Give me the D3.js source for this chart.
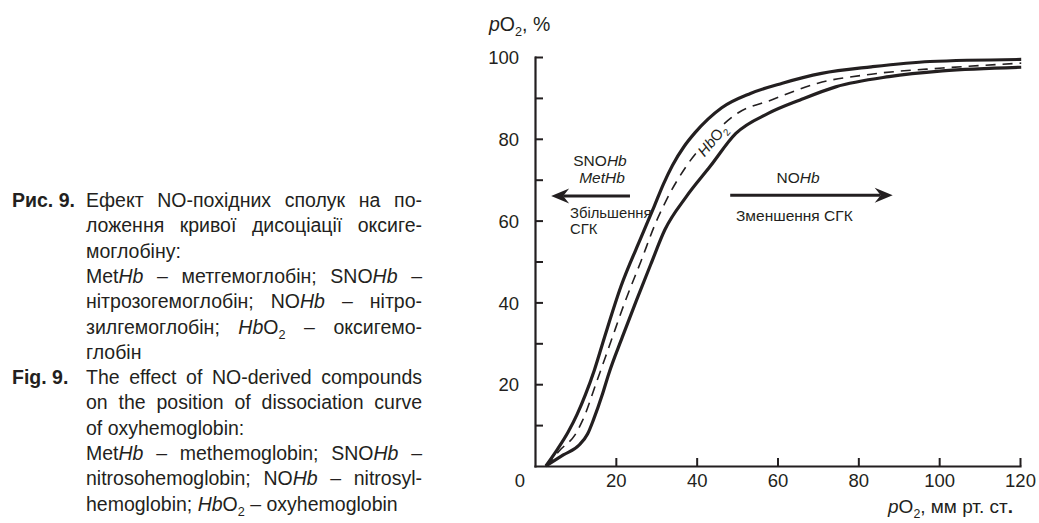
<!DOCTYPE html>
<html><head><meta charset="utf-8">
<script src="https://cdn.jsdelivr.net/npm/d3@7"></script>
<style>
body{margin:0;background:#fff}
svg{display:block}
text{font-family:"Liberation Sans",Arial,Helvetica,sans-serif;fill:#231f20}
</style>
</head><body>
<svg id="c" width="1039" height="523"></svg>
<script>
// ---------- data ----------
const xTicks = [20, 40, 60, 80, 100, 120];
const yTicks = [10, 20, 30, 40, 50, 60, 70, 80, 90, 100];
const yLabelTicks = [20, 40, 60, 80, 100];

// SNOHb / MetHb curve (shift left)
const leftX = [2.7, 5.5, 8.2, 10.5, 12.5, 14.7, 17.2, 21.3, 26.3, 29.5, 31.8, 34, 36.8, 39.6, 46.2, 53.3, 61.2, 70.9, 83.2, 97.7, 120.3];
const leftY = [0, 4.0, 8.3, 12.8, 17.5, 23.5, 31.5, 44, 56, 63.5, 69, 73.5, 78, 81.5, 87.6, 91.1, 93.6, 96.0, 97.6, 98.9, 99.4];
// HbO2 normal curve (dashed)
const midX = [2.7, 6.5, 9.9, 11.8, 15.4, 18.8, 22.4, 26.2, 29.8, 32.5, 37.3, 43.5, 50.2, 58.5, 70, 83.2, 100.8, 120.3];
const midY = [0, 4.2, 7.6, 11.2, 21, 30.5, 40.5, 50, 59.3, 65, 73.1, 80.5, 86.3, 89.5, 93.6, 95.8, 97.3, 98.5];
// NOHb curve (shift right)
const rightX = [2.7, 7, 11, 13, 14.5, 16.7, 18.2, 21.6, 25.1, 28.6, 32.1, 37.4, 43.3, 49.7, 57.7, 65.6, 74.4, 87.6, 100.8, 120.3];
const rightY = [0, 2.7, 5.2, 7.8, 11.4, 17.6, 22.4, 31.5, 40.5, 49.2, 57.7, 65.8, 73.2, 81.3, 86.2, 89.5, 92.7, 95.2, 96.6, 97.5];

// caption lines: [label, segments, justify]
const captionLines = [
  ["Рис. 9.", [{t:"Ефект NO-похідних сполук на по-"}], true],
  ["", [{t:"ложення кривої дисоціації оксиге-"}], true],
  ["", [{t:"моглобіну:"}], false],
  ["", [{t:"Met"},{t:"Hb",st:"i"},{t:" – метгемоглобін; SNO"},{t:"Hb",st:"i"},{t:" –"}], true],
  ["", [{t:"нітрозогемоглобін; NO"},{t:"Hb",st:"i"},{t:" – нітро-"}], true],
  ["", [{t:"зилгемоглобін; "},{t:"Hb",st:"i"},{t:"O"},{t:"2",st:"sub"},{t:" – оксигемо-"}], true],
  ["", [{t:"глобін"}], false],
  ["Fig. 9.", [{t:"The effect of NO-derived compounds"}], true],
  ["", [{t:"on the position of dissociation curve"}], true],
  ["", [{t:"of oxyhemoglobin:"}], false],
  ["", [{t:"Met"},{t:"Hb",st:"i"},{t:" – methemoglobin; SNO"},{t:"Hb",st:"i"},{t:" –"}], true],
  ["", [{t:"nitrosohemoglobin; NO"},{t:"Hb",st:"i"},{t:" – nitrosyl-"}], true],
  ["", [{t:"hemoglobin; "},{t:"Hb",st:"i"},{t:"O"},{t:"2",st:"sub"},{t:" – oxyhemoglobin"}], false]
];

// ---------- setup ----------
const ink = "#231f20";
const svg = d3.select("#c");
const x = d3.scaleLinear().domain([0, 120]).range([535, 1020]);
const y = d3.scaleLinear().domain([0, 100]).range([466, 57]);

const gx = svg.append("g").attr("transform", `translate(0,${y(0)})`)
  .call(d3.axisBottom(x).tickValues(xTicks).tickSizeInner(-8).tickSizeOuter(0).tickPadding(8));
const gy = svg.append("g").attr("transform", `translate(${x(0)},0)`)
  .call(d3.axisLeft(y).tickValues(yTicks).tickSizeInner(-8).tickSizeOuter(0).tickPadding(16)
    .tickFormat(d => yLabelTicks.includes(d) ? d : ""));
[gx, gy].forEach(g => {
  g.selectAll("path.domain").attr("stroke", ink).attr("stroke-width", 2.2).attr("stroke-linecap", "square");
  g.selectAll(".tick line").attr("stroke", ink).attr("stroke-width", 2);
  g.selectAll(".tick text").attr("fill", ink).style("font-size", "18.5px")
    .style("font-family", '"Liberation Sans",Arial,sans-serif');
});
gy.selectAll(".tick text").attr("dy", "0.36em");
svg.append("text").attr("x", x(0) - 15).attr("y", y(0) + 21).attr("text-anchor", "middle")
  .style("font-size", "18.5px").text("0");

function richText(sel, parts, fs) {
  let shift = 0;
  parts.forEach(p => {
    const ts = sel.append("tspan").text(p.t);
    if (p.st === "i") ts.style("font-style", "italic");
    if (p.st === "b") ts.style("font-weight", "bold");
    if (p.st === "sub") {
      ts.style("font-size", (fs * 0.65) + "px").attr("dy", fs * 0.28);
      shift = fs * 0.28;
    } else if (shift) {
      ts.attr("dy", -shift); shift = 0;
    }
  });
  return sel;
}
richText(svg.append("text").attr("x", 489).attr("y", 31).style("font-size", "19.5px"),
  [{t:"p",st:"i"},{t:"O"},{t:"2",st:"sub"},{t:", %"}], 19.5);
richText(svg.append("text").attr("x", 1013).attr("y", 513).attr("text-anchor", "end").style("font-size", "19px"),
  [{t:"p",st:"i"},{t:"O"},{t:"2",st:"sub"},{t:", мм рт. ст"},{t:".",st:"b"}], 19);

const line = d3.line().x(d => x(d[0])).y(d => y(d[1])).curve(d3.curveMonotoneX);
const zip = (a, b) => a.map((v, i) => [v, b[i]]);

svg.append("path").datum(zip(midX, midY)).attr("d", line)
  .attr("fill", "none").attr("stroke", ink).attr("stroke-width", 1.6).attr("stroke-dasharray", "10,7");

const lx = x(43.8), ly = y(79.7);
const lab = svg.append("g").attr("transform", `translate(${lx},${ly}) rotate(-50)`);
richText(lab.append("text").attr("text-anchor", "middle").attr("dy", "0.36em").style("font-size", "15px")
  .attr("stroke", "#fff").attr("stroke-width", 6).attr("stroke-linejoin", "round").style("fill", "#fff"),
  [{t:"Hb",st:"i"},{t:"O"},{t:"2",st:"sub"}], 15);
richText(lab.append("text").attr("text-anchor", "middle").attr("dy", "0.36em").style("font-size", "15px"),
  [{t:"Hb",st:"i"},{t:"O"},{t:"2",st:"sub"}], 15);

[zip(leftX, leftY), zip(rightX, rightY)].forEach(d => {
  svg.append("path").datum(d).attr("d", line)
    .attr("fill", "none").attr("stroke", ink).attr("stroke-width", 3.2);
});

function arrow(x1, x2, yv) {
  const X1 = x(x1), X2 = x(x2), Y = y(yv);
  const dir = Math.sign(X2 - X1);
  svg.append("line").attr("x1", X1).attr("x2", X2 - dir * 12).attr("y1", Y).attr("y2", Y)
    .attr("stroke", ink).attr("stroke-width", 3);
  svg.append("path")
    .attr("d", `M${X2},${Y} L${X2 - dir * 18},${Y - 7.5} L${X2 - dir * 12},${Y} L${X2 - dir * 18},${Y + 7.5} Z`)
    .attr("fill", ink);
}
arrow(23.5, 4, 66);
arrow(48.3, 88.5, 66.2);

richText(svg.append("text").attr("x", 600).attr("y", 166).attr("text-anchor", "middle").style("font-size", "15.5px"),
  [{t:"SNO"},{t:"Hb",st:"i"}], 15.5);
richText(svg.append("text").attr("x", 602).attr("y", 183).attr("text-anchor", "middle").style("font-size", "15.5px"),
  [{t:"MetHb",st:"i"}], 15.5);
svg.append("text").attr("x", 570).attr("y", 218).style("font-size", "14.8px").text("Збільшення");
svg.append("text").attr("x", 570).attr("y", 234).style("font-size", "14.8px").text("СГК");
richText(svg.append("text").attr("x", 798).attr("y", 183).attr("text-anchor", "middle").style("font-size", "15.5px"),
  [{t:"NO"},{t:"Hb",st:"i"}], 15.5);
svg.append("text").attr("x", 736).attr("y", 221).style("font-size", "15.5px").text("Зменшення СГК");

const capFs = 19.5, capX0 = 12, capX1 = 86, capR = 422, capY0 = 207, capLH = 25.3;
function toWords(segs) {
  const ws = [[]];
  segs.forEach(s => {
    s.t.split(" ").forEach((p, k) => {
      if (k > 0) ws.push([]);
      if (p) ws[ws.length - 1].push({t: p, st: s.st});
    });
  });
  return ws.filter(w => w.length);
}
const cap = svg.append("g").style("font-size", capFs + "px");
captionLines.forEach((ln, i) => {
  const yy = capY0 + i * capLH;
  if (ln[0]) cap.append("text").attr("x", capX0).attr("y", yy).style("font-weight", "bold").text(ln[0]);
  const ws = toWords(ln[1]);
  const els = ws.map(w => richText(cap.append("text").attr("y", yy), w, capFs));
  const widths = els.map(e => e.node().getComputedTextLength());
  const total = d3.sum(widths);
  let gap = capFs * 0.278;
  if (ln[2] && ws.length > 1) gap = (capR - capX1 - total) / (ws.length - 1);
  let cx = capX1;
  els.forEach((e, k) => { e.attr("x", cx); cx += widths[k] + gap; });
});
</script>
</body></html>
